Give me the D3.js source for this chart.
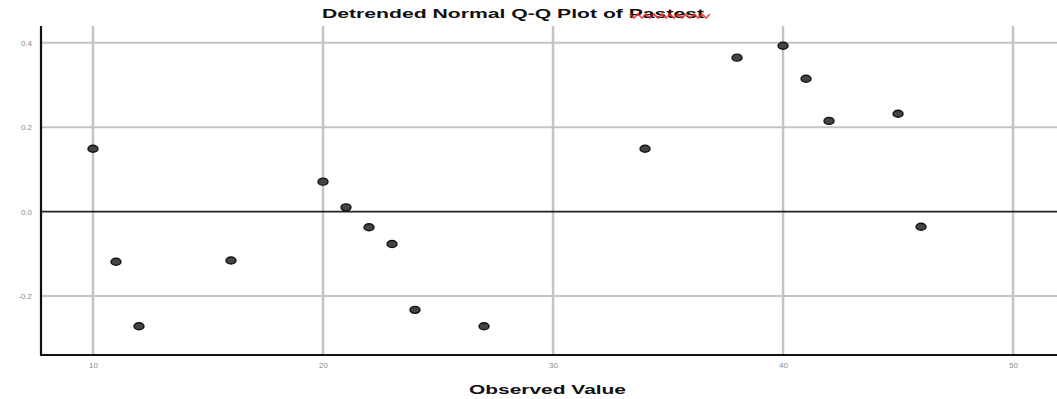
<!DOCTYPE html>
<html><head><meta charset="utf-8">
<script src="https://cdn.jsdelivr.net/npm/d3@7"></script>
<style>body{margin:0;background:#fff}svg{display:block}</style>
</head><body>
<svg id="c" width="1057" height="399"></svg>
<script>
const observed = [10,11,12,16,20,21,22,23,24,27,34,38,40,41,42,45,46];
const deviation = [0.149,-0.119,-0.272,-0.116,0.071,0.010,-0.037,-0.077,-0.233,-0.272,0.149,0.365,0.393,0.315,0.215,0.232,-0.036];
const xTicks = [10,20,30,40,50];
const yTicks = [-0.2,0.0,0.2,0.4];
const yTickLabels = ["-0.2","0.0","0.2","0.4"];
const titleText = "Detrended Normal Q-Q Plot of Pastest";
const xTitle = "Observed Value";

const svg = d3.select("#c");
const L = 41, R = 1057, T = 26, B = 355;
const x = d3.scaleLinear().domain([7.74, 51.91]).range([L, R]);
const y = d3.scaleLinear().domain([-0.34, 0.44]).range([B, T]);

// gridlines
svg.append("g").selectAll("line").data(xTicks).join("line")
  .attr("x1", d => x(d)).attr("x2", d => x(d)).attr("y1", T).attr("y2", B)
  .attr("stroke", "#c4c4c4").attr("stroke-width", 2.5);
svg.append("g").selectAll("line").data(yTicks.filter(d => d !== 0)).join("line")
  .attr("x1", L).attr("x2", R).attr("y1", d => y(d)).attr("y2", d => y(d))
  .attr("stroke", "#c4c4c4").attr("stroke-width", 2);

// zero reference line
svg.append("line").attr("x1", L).attr("x2", R).attr("y1", y(0)).attr("y2", y(0))
  .attr("stroke", "#222").attr("stroke-width", 1.8);

// axes
const xAxis = d3.axisBottom(x).tickValues(xTicks).tickSize(0).tickPadding(7).tickFormat(d3.format("d"));
const gx = svg.append("g").attr("transform", `translate(0,${B})`).call(xAxis);
gx.select(".domain").remove();
gx.selectAll("text").attr("font-family", "Liberation Sans, Arial, sans-serif").attr("font-size", 8).attr("fill", "#8a8a8a");

const yAxis = d3.axisLeft(y).tickValues(yTicks).tickSize(0).tickPadding(9).tickFormat((d, i) => yTickLabels[i]);
const gy = svg.append("g").attr("transform", `translate(${L},0)`).call(yAxis);
gy.select(".domain").remove();
gy.selectAll("text").attr("font-family", "Liberation Sans, Arial, sans-serif").attr("font-size", 8).attr("fill", "#8a8a8a");

svg.append("line").attr("x1", L).attr("x2", L).attr("y1", T).attr("y2", B + 1)
  .attr("stroke", "#111").attr("stroke-width", 2.2);
svg.append("line").attr("x1", L - 1).attr("x2", R).attr("y1", B).attr("y2", B)
  .attr("stroke", "#111").attr("stroke-width", 2.2);

// points
svg.append("g").selectAll("ellipse").data(observed).join("ellipse")
  .attr("cx", (d, i) => x(d)).attr("cy", (d, i) => y(deviation[i]))
  .attr("rx", 5).attr("ry", 3.5)
  .attr("fill", "#444").attr("stroke", "#111").attr("stroke-width", 1.4);

// titles
svg.append("text").attr("x", 322).attr("y", 18)
  .attr("font-family", "Liberation Sans, Arial, sans-serif").attr("font-weight", "bold")
  .attr("font-size", 12).attr("fill", "#111")
  .attr("textLength", 382).attr("lengthAdjust", "spacingAndGlyphs").text(titleText);

// spell-check squiggle under last word
const sq = [];
for (let px = 630, k = 0; px <= 712; px += 4, k++) sq.push([px, 16 + (k % 2 === 0 ? -2 : 2)]);
svg.append("path").attr("d", d3.line()(sq))
  .attr("fill", "none").attr("stroke", "#e03030").attr("stroke-width", 1.6).attr("opacity", 0.85);

svg.append("text").attr("x", 469).attr("y", 394)
  .attr("font-family", "Liberation Sans, Arial, sans-serif").attr("font-weight", "bold")
  .attr("font-size", 12).attr("fill", "#111")
  .attr("textLength", 157).attr("lengthAdjust", "spacingAndGlyphs").text(xTitle);
</script>
</body></html>
